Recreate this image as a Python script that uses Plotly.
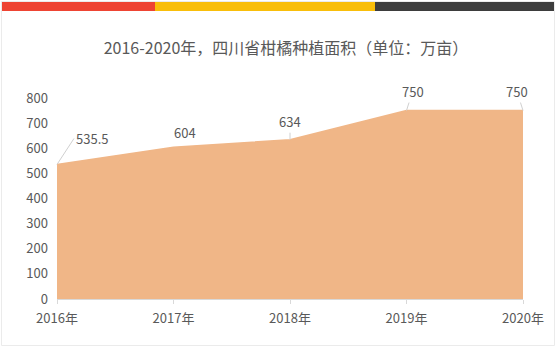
import plotly.graph_objects as go

years = ["2016年", "2017年", "2018年", "2019年", "2020年"]
area = [535.5, 604, 634, 750, 750]
labels = ["535.5", "604", "634", "750", "750"]
y_ticks = [0, 100, 200, 300, 400, 500, 600, 700, 800]

FONT = "Noto Sans CJK SC, Microsoft YaHei, sans-serif"
GREY = "#595959"
W, H = 556, 347
L, R, T, B = 57, 27, 98, 48

fig = go.Figure()
fig.add_trace(go.Scatter(
    x=list(range(len(years))), y=area, mode="lines", fill="tozeroy",
    line=dict(color="#F0B687", width=1.5), fillcolor="#F0B687",
    hoverinfo="skip", showlegend=False,
))

# label offsets (pixels): (ax, ay, showarrow)
offs = [(17, -26, True), (11, -15, False), (0, -18, True), (6, -19, True), (-6, -19, True)]
for i, (v, t) in enumerate(zip(area, labels)):
    ax, ay, sa = offs[i]
    if sa:
        fig.add_annotation(x=i, y=v, text=t, showarrow=True, arrowhead=0, arrowwidth=1,
                           arrowcolor="#d0d0d0", ax=ax, ay=ay,
                           xanchor="left" if i == 0 else "center",
                           font=dict(family=FONT, size=13, color=GREY))
    else:
        fig.add_annotation(x=i, y=v, text=t, showarrow=False, xshift=ax, yshift=-ay,
                           font=dict(family=FONT, size=13, color=GREY))

# top colour strip
for x0, x1, c in [(2, 155, "#EE4433"), (155, 375, "#F9BE0A"), (375, 554, "#3D3D3D")]:
    fig.add_shape(type="rect", xref="paper", yref="paper", xsizemode="pixel", ysizemode="pixel",
                  xanchor=0, yanchor=1, x0=x0 - L, x1=x1 - L, y0=T - 2, y1=T - 11,
                  fillcolor=c, line=dict(width=0), layer="above")
# card border
fig.add_shape(type="rect", xref="paper", yref="paper", xsizemode="pixel", ysizemode="pixel",
              xanchor=0, yanchor=1, x0=1.5 - L, x1=554.5 - L, y0=T - 1.5, y1=T - 345.5,
              line=dict(color="#ebebeb", width=1), fillcolor="rgba(0,0,0,0)", layer="below")

fig.update_layout(
    width=W, height=H, margin=dict(l=L, r=R, t=T, b=B),
    paper_bgcolor="white", plot_bgcolor="white",
    title=dict(text="2016-2020年，四川省柑橘种植面积（单位：万亩）", x=286 / W, xanchor="center",
               y=1 - 48 / H, yanchor="middle",
               font=dict(family=FONT, size=16, color=GREY)),
    xaxis=dict(tickmode="array", tickvals=list(range(len(years))), ticktext=years,
               range=[0, len(years) - 1], showgrid=False, zeroline=False,
               showline=True, linecolor="#d9d9d9", ticks="outside", ticklen=4, tickcolor="#d9d9d9",
               ticklabelstandoff=3,
               tickfont=dict(family=FONT, size=13, color=GREY)),
    yaxis=dict(tickmode="array", tickvals=y_ticks, range=[0, 800], showgrid=False, zeroline=False,
               showline=False, ticks="", ticklabelstandoff=8,
               tickfont=dict(family=FONT, size=13, color=GREY)),
)
fig.write_html("out.html")
